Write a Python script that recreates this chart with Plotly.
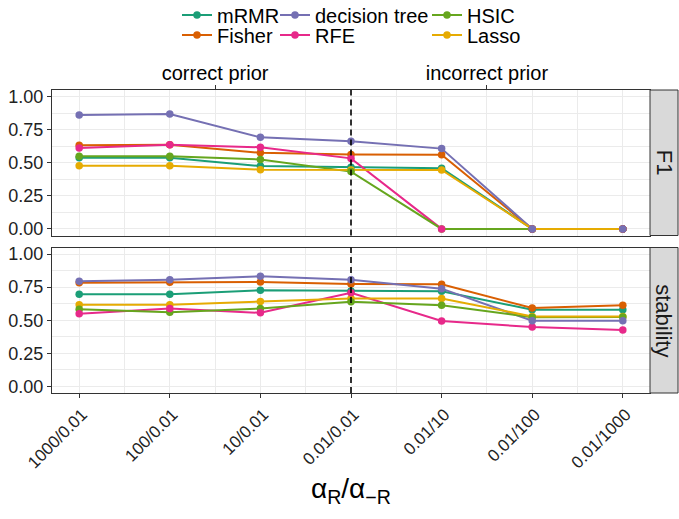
import numpy as np
import plotly.graph_objects as go

# ---------------- data ----------------
conditions = ["1000/0.01", "100/0.01", "10/0.01", "0.01/0.01", "0.01/10", "0.01/100", "0.01/1000"]
methods = ["mRMR", "Fisher", "decision tree", "RFE", "HSIC", "Lasso"]
prior_labels = ["correct prior", "incorrect prior"]
facets = ["F1", "stability"]

f1_mrmr = [0.537, 0.537, 0.475, 0.466, 0.458, 0.0, 0.0]
f1_fisher = [0.632, 0.637, 0.575, 0.563, 0.560, 0.0, 0.0]
f1_tree = [0.861, 0.869, 0.692, 0.662, 0.607, 0.0, 0.0]
f1_rfe = [0.612, 0.637, 0.617, 0.533, 0.0, 0.0, 0.0]
f1_hsic = [0.550, 0.550, 0.525, 0.433, 0.0, 0.0, 0.0]
f1_lasso = [0.478, 0.478, 0.448, 0.446, 0.446, 0.0, 0.0]

st_mrmr = [0.697, 0.697, 0.727, 0.722, 0.719, 0.579, 0.579]
st_fisher = [0.784, 0.787, 0.789, 0.775, 0.772, 0.592, 0.614]
st_tree = [0.795, 0.807, 0.832, 0.807, 0.739, 0.496, 0.496]
st_rfe = [0.549, 0.589, 0.556, 0.707, 0.494, 0.449, 0.426]
st_hsic = [0.584, 0.561, 0.589, 0.639, 0.614, 0.522, 0.525]
st_lasso = [0.617, 0.617, 0.642, 0.664, 0.664, 0.529, 0.529]

f1 = {"mRMR": f1_mrmr, "Fisher": f1_fisher, "decision tree": f1_tree,
      "RFE": f1_rfe, "HSIC": f1_hsic, "Lasso": f1_lasso}
stab = {"mRMR": st_mrmr, "Fisher": st_fisher, "decision tree": st_tree,
        "RFE": st_rfe, "HSIC": st_hsic, "Lasso": st_lasso}

# ---------------- style ----------------
colors = {"mRMR": "#1B9E77", "Fisher": "#D95F02", "decision tree": "#7570B3",
          "RFE": "#E7298A", "HSIC": "#66A61E", "Lasso": "#E6AB02"}
point_order = ["mRMR", "Fisher", "Lasso", "HSIC", "RFE", "decision tree"]
FONT = "Liberation Sans, Arial, sans-serif"
W, H = 679, 519
L, R, T, B = 52, 29, 90, 126
LW, MS = 2, 7.5

xpos = list(range(len(conditions)))
split = conditions.index("0.01/0.01")
prior_pos = [float(np.mean(xpos[:split + 1])), float(np.mean(xpos[split:]))]

fig = go.Figure()
panels = [(f1, "x", "y"), (stab, "x2", "y2")]
# lines layer first, then points layer (as in ggplot)
for data, xa, ya in panels:
    for m in methods:
        fig.add_trace(go.Scatter(x=xpos, y=data[m], mode="lines", xaxis=xa, yaxis=ya,
                                 line=dict(color=colors[m], width=LW), showlegend=False,
                                 hoverinfo="skip"))
for data, xa, ya in panels:
    for m in point_order:
        fig.add_trace(go.Scatter(x=xpos, y=data[m], mode="markers", xaxis=xa, yaxis=ya,
                                 marker=dict(color=colors[m], size=MS), showlegend=False,
                                 name=m))

# legend entries (line + point glyph), one legend per slot, laid out column-wise
col_text_x = [217, 315, 467]
row_y = [15, 35]
layout_legends = {}
for i, m in enumerate(methods):
    lname = "legend" if i == 0 else f"legend{i + 1}"
    col, row = i // 2, i % 2
    fig.add_trace(go.Scatter(x=[None], y=[None], mode="lines+markers", name=m,
                             line=dict(color=colors[m], width=LW),
                             marker=dict(color=colors[m], size=MS),
                             legend=lname, showlegend=True, xaxis="x3", yaxis="y"))
    layout_legends[lname] = dict(
        x=(col_text_x[col] - 40) / W, y=1 - row_y[row] / H, xref="container", yref="container",
        xanchor="left", yanchor="middle", orientation="h", bgcolor="rgba(0,0,0,0)",
        font=dict(family=FONT, size=20, color="#000000"), itemwidth=30, borderwidth=0,
        tracegroupgap=0)

plot_h = H - T - B
gap_px = 12
dom_top = [(plot_h / 2 + gap_px / 2) / plot_h, 1.0]
dom_bot = [0.0, (plot_h / 2 - gap_px / 2) / plot_h]

grid = "#EBEBEB"
border = "#333333"
tickfont = dict(family=FONT, size=18, color="#222222")
xrange = [-0.3, len(conditions) - 1 + 0.3]
yrange = [-0.05, 1.05]

common_x = dict(range=xrange, tickvals=xpos, showgrid=True, gridcolor=grid, gridwidth=1.3,
                minor=dict(dtick=0.5, tick0=0, showgrid=True, gridcolor=grid, gridwidth=0.7),
                showline=True, mirror=True, linecolor=border, linewidth=1, zeroline=False,
                tickcolor=border, ticklen=4, tickwidth=1, automargin=False)
common_y = dict(range=yrange, tickmode="array", tickvals=[0, 0.25, 0.5, 0.75, 1.0],
                tickformat=".2f", showgrid=True, gridcolor=grid, gridwidth=1.3,
                minor=dict(tickmode="array", tickvals=[0.125, 0.375, 0.625, 0.875],
                           showgrid=True, gridcolor=grid, gridwidth=0.7),
                showline=True, mirror=True, linecolor=border, linewidth=1, zeroline=False,
                ticks="outside", tickcolor=border, ticklen=4, tickwidth=1, tickfont=tickfont,
                automargin=False)

fig.update_layout(
    width=W, height=H, margin=dict(l=L, r=R, t=T, b=B, pad=0, autoexpand=False),
    paper_bgcolor="white", plot_bgcolor="white",
    font=dict(family=FONT, color="#000000"),
    xaxis=dict(common_x, anchor="y", showticklabels=False, ticks=""),
    xaxis2=dict(common_x, anchor="y2", matches="x", ticktext=conditions, ticks="outside",
                tickangle=-45, ticklabelshift=3,
                tickfont=dict(family=FONT, size=17, color="#222222")),
    xaxis3=dict(range=xrange, overlaying="x", side="top", anchor="y", tickmode="array",
                tickvals=prior_pos, ticktext=prior_labels, ticks="outside", ticklen=4,
                tickcolor=border, tickwidth=1, showgrid=False, showline=False, zeroline=False,
                ticklabelstandoff=-3,
                tickfont=dict(family=FONT, size=20, color="#000000"), automargin=False),
    yaxis=dict(common_y, domain=dom_top, anchor="x"),
    yaxis2=dict(common_y, domain=dom_bot, anchor="x2"),
    **layout_legends,
)

# dashed vertical reference line at 0.01/0.01 in both panels
for xa, ya in [("x", "y"), ("x2", "y2")]:
    fig.add_shape(type="line", xref=xa, yref=f"{ya} domain", x0=xpos[split], x1=xpos[split],
                  y0=0, y1=1, line=dict(color="#000000", width=1.6, dash="6px,4px"))

# facet strips on the right
strip_w = 28 / (W - L - R)
for label, dom in zip(facets, [dom_top, dom_bot]):
    fig.add_shape(type="rect", xref="paper", yref="paper", x0=1.0, x1=1.0 + strip_w,
                  y0=dom[0], y1=dom[1], fillcolor="#D9D9D9", line=dict(color=border, width=1),
                  layer="above")
    fig.add_annotation(text=label, xref="paper", yref="paper", x=1.0 + strip_w / 2,
                       y=(dom[0] + dom[1]) / 2, showarrow=False, textangle=90,
                       font=dict(family=FONT, size=22, color="#1A1A1A"),
                       xanchor="center", yanchor="middle")

# x-axis title
fig.add_annotation(text="α<sub>R</sub>/α<sub>−R</sub>", xref="paper", yref="paper",
                   x=0.5, y=(H - B - 490) / plot_h, showarrow=False, xanchor="center",
                   yanchor="middle", font=dict(family=FONT, size=28, color="#000000"))

fig.write_html("out.html")
